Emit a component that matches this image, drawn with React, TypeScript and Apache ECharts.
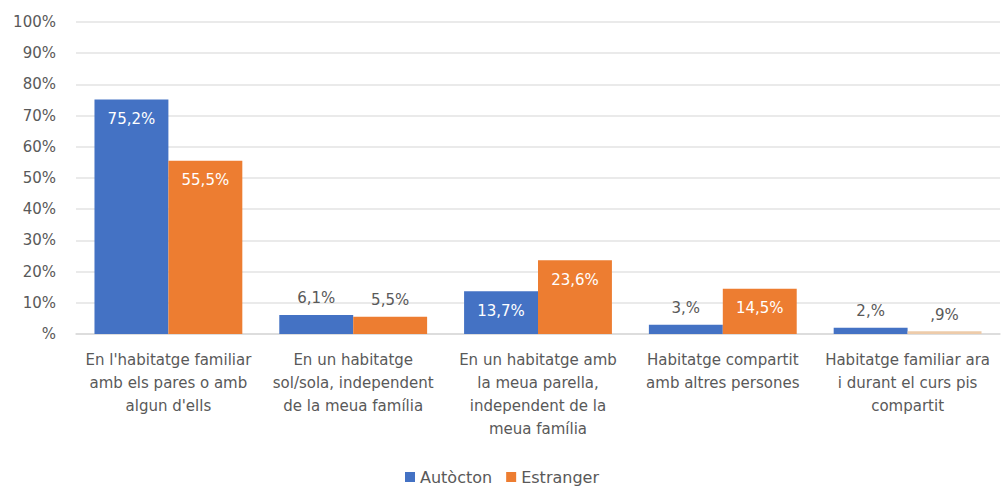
import React, { useEffect, useRef } from "react";
import * as echarts from "echarts";

const categories = [
  "En l'habitatge familiar\namb els pares o amb\nalgun d'ells",
  "En un habitatge\nsol/sola, independent\nde la meua família",
  "En un habitatge amb\nla meua parella,\nindependent de la\nmeua família",
  "Habitatge compartit\namb altres persones",
  "Habitatge familiar ara\ni durant el curs pis\ncompartit",
];
const autoctonValues = [75.2, 6.1, 13.7, 3, 2];
const autoctonLabels = ["75,2%", "6,1%", "13,7%", "3,%", "2,%"];
const estrangerValues = [55.5, 5.5, 23.6, 14.5, 0.9];
const estrangerLabels = ["55,5%", "5,5%", "23,6%", "14,5%", ",9%"];
const insideThreshold = 10;

const FONT = "'DejaVu Sans', 'Liberation Sans', Arial, sans-serif";
const BLUE = "#4472C4";
const ORANGE = "#ED7D31";
const TEXT = "#595959";

function buildData(values: number[], labels: string[], color: string, fadedIndex?: number) {
  return values.map((v, i) => {
    const inside = v >= insideThreshold;
    return {
      value: v,
      itemStyle: i === fadedIndex ? { color: "#EDCBAA" } : { color },
      label: {
        show: true,
        formatter: labels[i],
        position: inside ? "insideTop" : "top",
        distance: inside ? 12 : 9,
        color: inside ? "#ffffff" : TEXT,
        fontSize: 15,
        fontFamily: FONT,
      },
    };
  });
}

export default function App() {
  const ref = useRef<HTMLDivElement>(null);
  useEffect(() => {
    if (!ref.current) return;
    const chart = echarts.init(ref.current, null, { renderer: "svg" });
    chart.setOption({
      animation: false,
      textStyle: { fontFamily: FONT },
      grid: { left: 76, right: 4, top: 22, bottom: 155, containLabel: false },
      legend: {
        bottom: -1,
        left: "center",
        itemWidth: 10,
        itemHeight: 10,
        itemGap: 14,
        icon: "rect",
        textStyle: { color: TEXT, fontSize: 16, fontFamily: FONT },
        data: ["Autòcton", "Estranger"],
      },
      xAxis: {
        type: "category",
        data: categories,
        axisTick: { show: false },
        axisLine: { lineStyle: { color: "#D9D9D9", width: 1.5 } },
        axisLabel: {
          color: TEXT,
          fontSize: 15,
          lineHeight: 23,
          margin: 14,
          interval: 0,
          fontFamily: FONT,
        },
      },
      yAxis: {
        type: "value",
        min: 0,
        max: 100,
        interval: 10,
        axisLine: { show: false },
        axisTick: { show: false },
        splitLine: { lineStyle: { color: "#E3E3E3", width: 1.5 } },
        axisLabel: {
          color: TEXT,
          fontSize: 15,
          margin: 20,
          fontFamily: FONT,
          formatter: (v: number) => (v === 0 ? "%" : v + "%"),
        },
      },
      series: [
        {
          name: "Autòcton",
          type: "bar",
          barGap: "0%",
          barCategoryGap: "20%",
          itemStyle: { color: BLUE },
          data: buildData(autoctonValues, autoctonLabels, BLUE),
        },
        {
          name: "Estranger",
          type: "bar",
          barGap: "0%",
          barCategoryGap: "20%",
          itemStyle: { color: ORANGE },
          data: buildData(estrangerValues, estrangerLabels, ORANGE, 4),
        },
      ],
    });
    return () => chart.dispose();
  }, []);
  return (
    <div
      ref={ref}
      style={{ position: "fixed", left: 0, top: 0, width: 1004, height: 489, background: "#fff" }}
    />
  );
}
